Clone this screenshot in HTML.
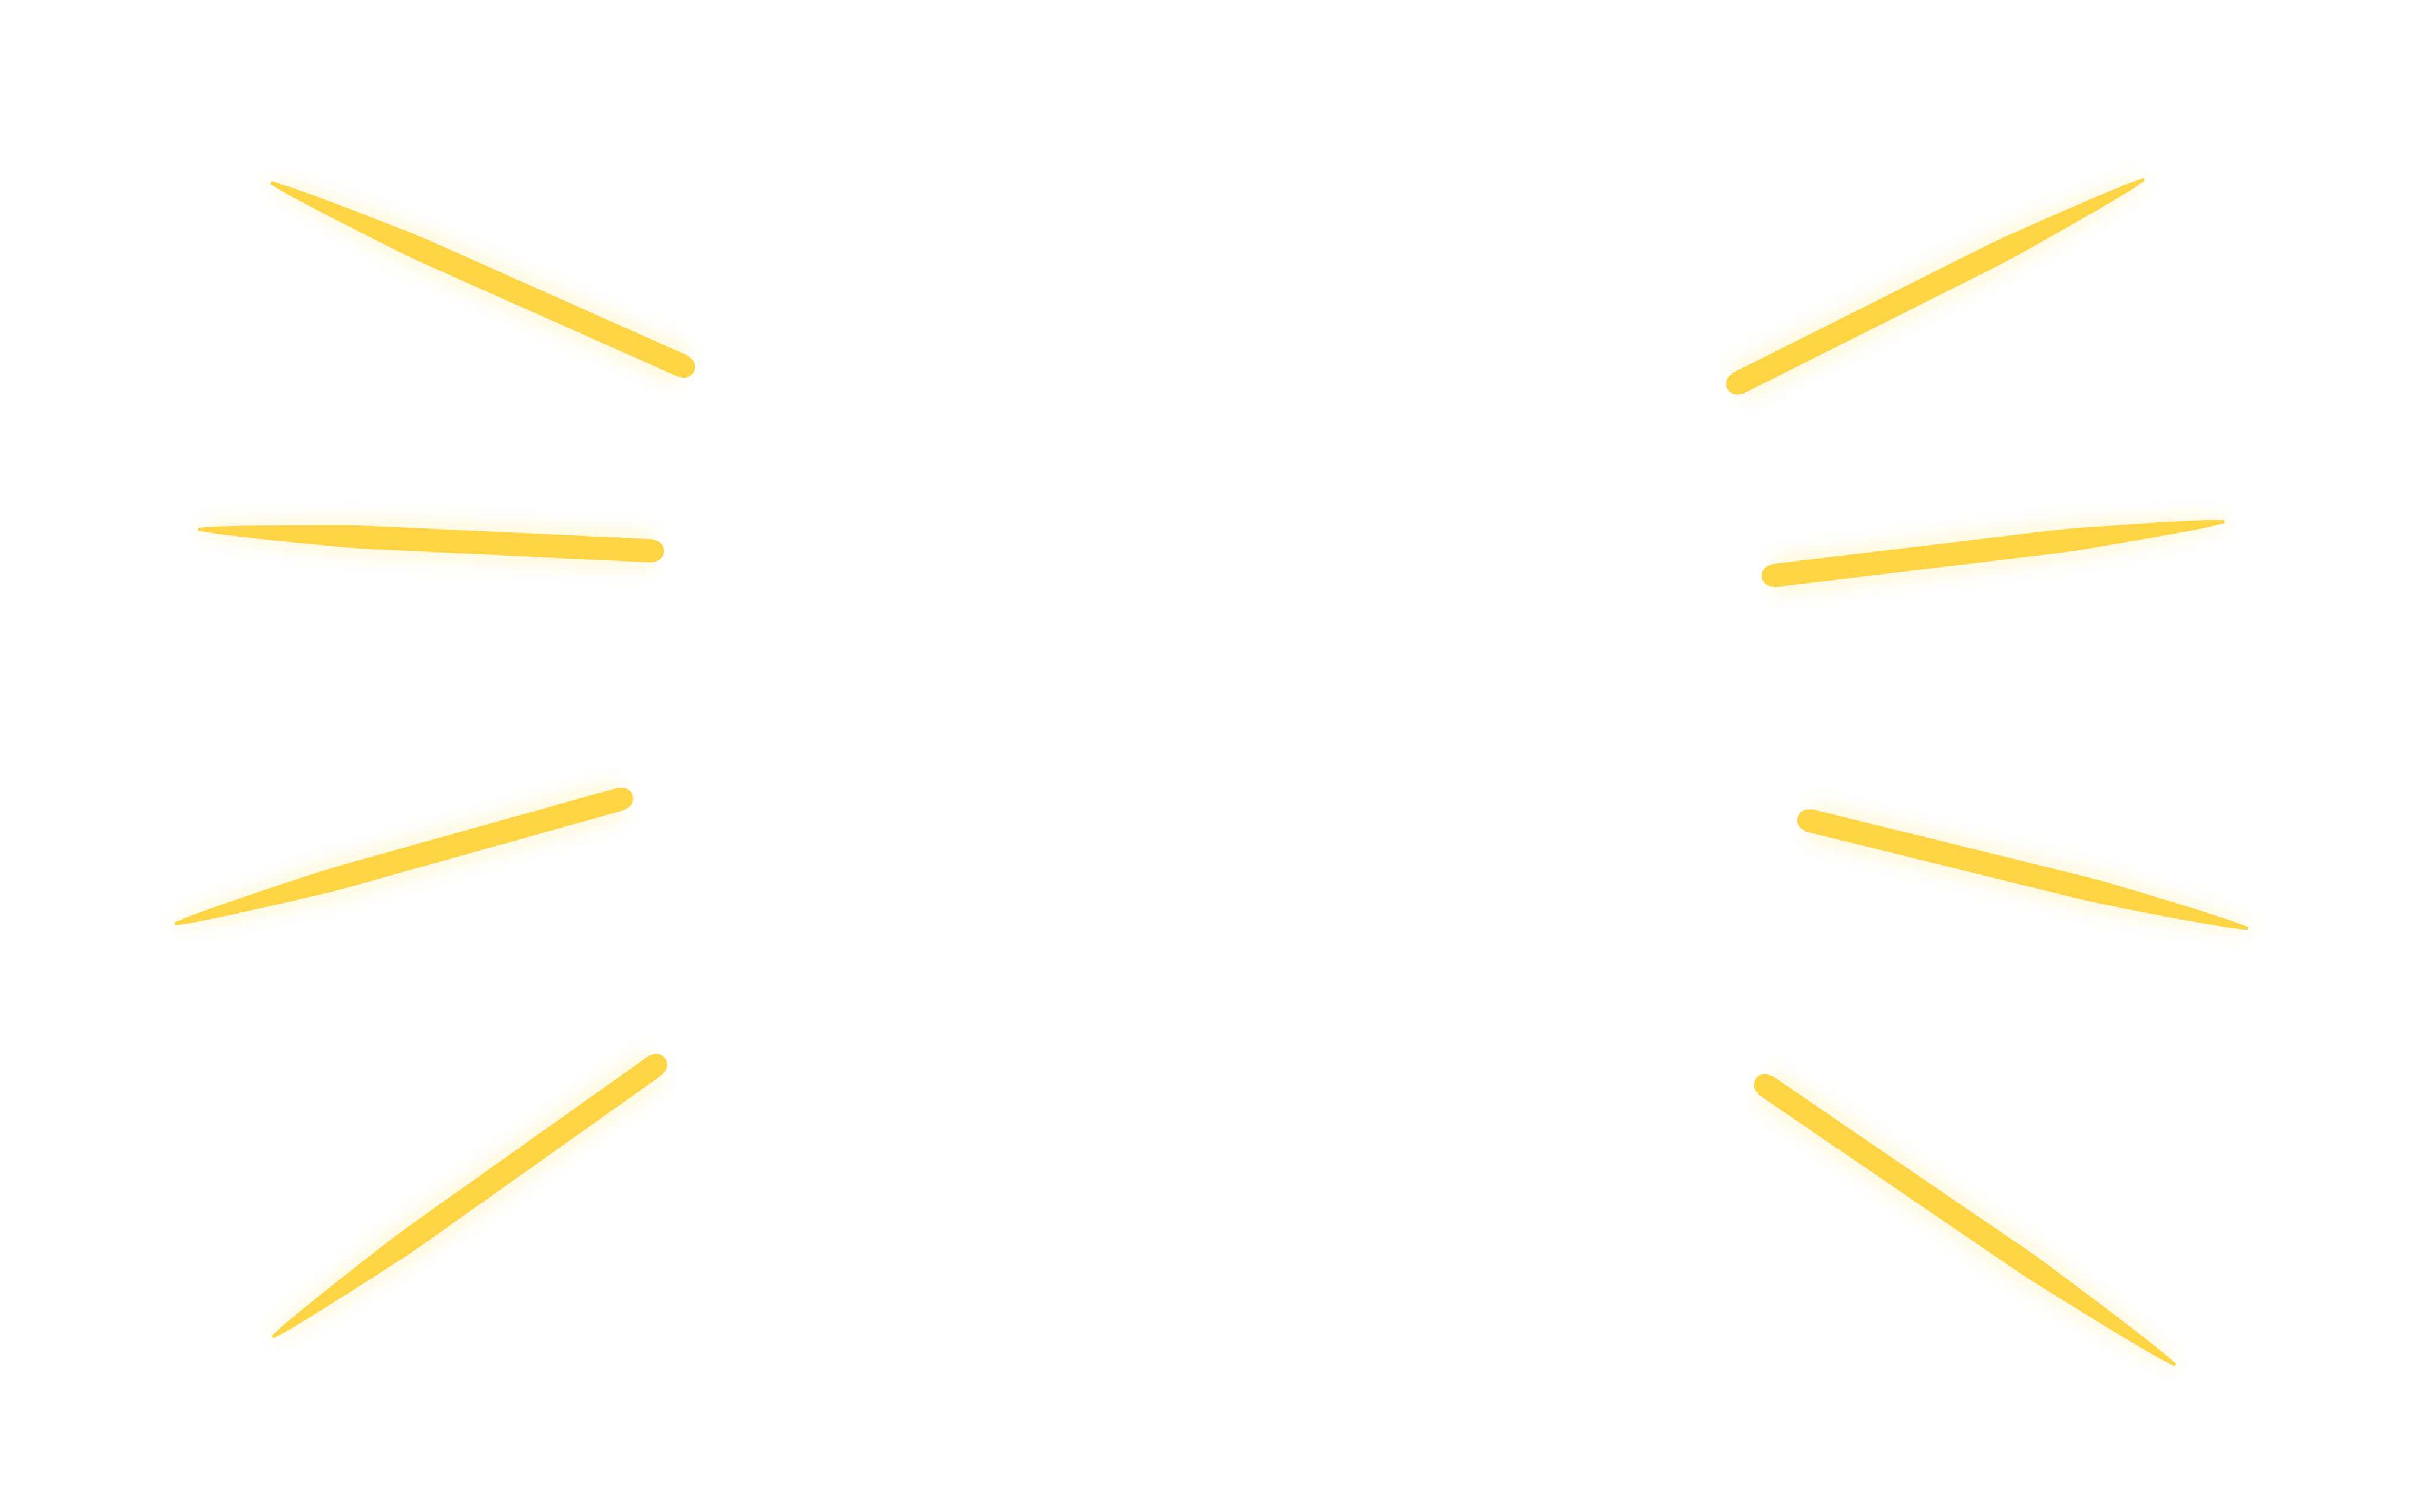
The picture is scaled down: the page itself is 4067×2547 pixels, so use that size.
<!DOCTYPE html>
<html><head><meta charset="utf-8"><style>
html,body{margin:0;padding:0;background:#fff;width:4067px;height:2547px;overflow:hidden}
svg{display:block}
</style></head><body>
<svg id="art" width="4067" height="2547" viewBox="0 0 1560 977" preserveAspectRatio="none" xmlns="http://www.w3.org/2000/svg">
<defs><filter id="glow" x="-20%" y="-50%" width="140%" height="200%"><feGaussianBlur stdDeviation="6"/></filter></defs>
<g id="glowLayer" filter="url(#glow)" opacity="0.3"></g>
<g id="strokeLayer"></g>
</svg>
<script>
// each stroke: outer (thin) end then inner (thick) end
const strokes = [
  [175,118,442,237],
  [128,342,422,356],
  [113,597,402,516],
  [176,864,424,688],
  [1385,116,1122,248],
  [1437,337,1145,372],
  [1452,600,1168,530],
  [1405,882,1140,701]
];
const NS='http://www.w3.org/2000/svg';
const gl=document.getElementById('glowLayer'), sl=document.getElementById('strokeLayer');
function poly(s,w0,w1){
  const [x0,y0,x1,y1]=s, dx=x1-x0, dy=y1-y0, L=Math.hypot(dx,dy), nx=-dy/L, ny=dx/L;
  const pts=[], n=24, back=[];
  for(let i=0;i<=n;i++){const t=i/n, k=Math.min(1,Math.pow(t/0.35,0.7)), w=(w0+(w1-w0)*k)/2;
    const x=x0+dx*t,y=y0+dy*t; pts.push((x+nx*w).toFixed(1)+','+(y+ny*w).toFixed(1)); back.unshift((x-nx*w).toFixed(1)+','+(y-ny*w).toFixed(1));}
  return pts.concat(back).join(' ');
}
strokes.forEach((s,i)=>{
  const g=document.createElementNS(NS,'polygon');
  g.setAttribute('points',poly(s,6,26));g.setAttribute('fill','#fde98a');
  
  
  gl.appendChild(g);
  const p=document.createElementNS(NS,'polygon');
  p.setAttribute('points',poly(s,2,15));p.setAttribute('fill','#fdd444');
  
  
  sl.appendChild(p);
  const c=document.createElementNS(NS,'circle');
  c.setAttribute('cx',s[2]);c.setAttribute('cy',s[3]);c.setAttribute('r',7);c.setAttribute('fill','#fdd444');
  
  
  sl.appendChild(c);
});
</script>
</body></html>
